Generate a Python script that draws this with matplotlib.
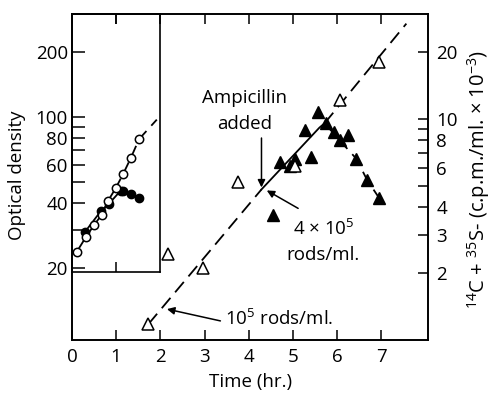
import matplotlib
matplotlib.use("Agg")
import matplotlib.pyplot as plt
from matplotlib.ticker import FixedLocator, NullLocator, FuncFormatter, NullFormatter

plt.rcParams['font.family'] = ['Open Sans', 'DejaVu Sans']
plt.rcParams['mathtext.default'] = 'regular'

# ---------------- data ----------------
# Main plot: 14C + 35S (c.p.m./ml x 1e-3) vs time (hr)
open_tri_t = [1.73, 2.17, 2.97, 3.76, 5.05, 6.06, 6.95]
open_tri_v = [1.18, 2.44, 2.12, 5.18, 6.10, 12.2, 18.1]

filled_tri_t = [4.55, 4.72, 4.93, 5.05, 5.27, 5.42, 5.57, 5.75, 5.93, 6.06, 6.25, 6.44, 6.68, 6.95]
filled_tri_v = [3.66, 6.38, 6.10, 6.61, 8.87, 6.72, 10.8, 9.57, 8.72, 8.0, 8.42, 6.61, 5.31, 4.40]

# drawn curves
dash_low_t = [1.73, 4.29]
dash_low_v = [1.18, 4.80]
solid_t = [4.29, 5.60, 5.72]
solid_v = [4.80, 9.13, 9.57]
dash_up_t = [5.72, 7.57]
dash_up_v = [9.57, 27.0]
decline_t = [5.72, 6.06, 6.44, 6.68, 6.95]
decline_v = [9.57, 8.0, 6.6, 5.3, 4.4]

# Inset: optical density vs time (hr)
open_circ_t = [0.11, 0.31, 0.50, 0.67, 0.82, 0.99, 1.16, 1.33, 1.52]
open_circ_od = [23.8, 27.7, 31.6, 35.2, 41.0, 46.8, 54.5, 64.4, 78.9]
filled_circ_t = [0.29, 0.66, 0.83, 1.10, 1.15, 1.33, 1.52]
filled_circ_od = [29.3, 36.8, 39.5, 45.5, 45.6, 44.0, 42.2]
inset_ext_t = [1.52, 1.92]
inset_ext_od = [78.9, 97.0]

x_ticks = [0, 1, 2, 3, 4, 5, 6, 7]
left_major = [20, 40, 60, 80, 100, 200]
left_minor = [30, 50, 70, 90]
right_major = [2, 3, 4, 6, 8, 10, 20]
right_minor = [5, 7, 9]

# ---------------- figure ----------------
W, H = 494, 398
FS = 13.5
fig = plt.figure(figsize=(W / 100, H / 100), dpi=100)
L, R, T, B = 72, 428, 13.5, 340
ax = fig.add_axes([L / W, 1 - B / H, (R - L) / W, (B - T) / H])
ax.set_xlim(0, 8.06)
ax.set_yscale('log')
ax.set_ylim(9.3, 300)
for s in ax.spines.values():
    s.set_linewidth(1.2)

fmt = FuncFormatter(lambda v, p: f"{v:g}")
ax.xaxis.set_major_locator(FixedLocator(x_ticks))
ax.xaxis.set_minor_locator(NullLocator())
ax.yaxis.set_major_locator(FixedLocator(left_major))
ax.yaxis.set_minor_locator(FixedLocator(left_minor))
ax.yaxis.set_major_formatter(fmt)
ax.yaxis.set_minor_formatter(NullFormatter())
ax.tick_params(axis='x', which='both', direction='in', top=True, bottom=True,
               length=7, width=1.1, labelsize=FS, pad=6)
ax.tick_params(axis='y', which='both', direction='in', left=True, right=False,
               length=9, width=1.1, labelsize=FS, pad=3)

ax2 = ax.twinx()
ax2.set_yscale('log')
ax2.set_ylim(1.0, 30)
ax2.yaxis.set_major_locator(FixedLocator(right_major))
ax2.yaxis.set_minor_locator(FixedLocator(right_minor))
ax2.yaxis.set_major_formatter(fmt)
ax2.yaxis.set_minor_formatter(NullFormatter())
ax2.tick_params(axis='y', which='both', direction='in', length=7, width=1.1,
                labelsize=FS, pad=6)
for s in ax2.spines.values():
    s.set_linewidth(1.2)

# inset
ins = ax.inset_axes([0, 19.2, 2.0, 300 - 19.2], transform=ax.transData)
ins.set_xlim(0, 2.0)
ins.set_yscale('log')
ins.set_ylim(19.2, 300)
ins.set_facecolor('none')
for s in ins.spines.values():
    s.set_linewidth(1.2)
ins.xaxis.set_major_locator(FixedLocator([1]))
ins.xaxis.set_minor_locator(NullLocator())
ins.yaxis.set_major_locator(NullLocator())
ins.yaxis.set_minor_locator(NullLocator())
ins.tick_params(axis='x', direction='in', top=True, bottom=True, labelbottom=False,
                length=7, width=1.1)

lw = 1.3
dash = (0, (6, 4))
# inset lines & markers
n_solid = 6
ins.plot(open_circ_t[:n_solid], open_circ_od[:n_solid], color='black', lw=lw)
ins.plot(open_circ_t[n_solid - 1:], open_circ_od[n_solid - 1:], color='black', lw=lw, ls=dash)
ins.plot(inset_ext_t, inset_ext_od, color='black', lw=lw, ls=dash)
ins.plot(filled_circ_t, filled_circ_od, color='black', lw=lw)
ins.plot(filled_circ_t, filled_circ_od, 'o', ms=6, color='black', zorder=4)
ins.plot(open_circ_t, open_circ_od, 'o', ms=6, mfc='white', mec='black', mew=1.1, zorder=5)

# main lines
mdash = (0, (7.5, 4))
ax2.plot(dash_low_t, dash_low_v, color='black', lw=lw, ls=mdash)
ax2.plot(solid_t, solid_v, color='black', lw=lw)
ax2.plot(dash_up_t, dash_up_v, color='black', lw=lw, ls=mdash)
ax2.plot(decline_t, decline_v, color='black', lw=lw, ls=mdash)

ax2.plot(filled_tri_t, filled_tri_v, '^', ms=8.5, color='black', zorder=5)
ax2.plot(open_tri_t, open_tri_v, '^', ms=8.5, mfc='white', mec='black', mew=1.1, zorder=5)

# annotations
arr = dict(arrowstyle='-|>', color='black', lw=1.1, mutation_scale=11, shrinkA=0, shrinkB=0)
ax2.text(3.9, 10.9, 'Ampicillin\nadded', ha='center', va='center', fontsize=FS, linespacing=1.55)
ax2.annotate('', xy=(4.29, 4.9), xytext=(4.29, 8.2), arrowprops=arr)
ax2.text(5.69, 2.79, '4 × 10$^5$\nrods/ml.', ha='center', va='center', fontsize=FS,
         linespacing=1.45)
ax2.annotate('', xy=(4.41, 4.75), xytext=(5.12, 3.94), arrowprops=arr)
ax2.text(3.47, 1.25, '10$^5$ rods/ml.', ha='left', va='center', fontsize=FS)
ax2.annotate('', xy=(2.15, 1.38), xytext=(3.36, 1.22), arrowprops=arr)

# axis labels
fig.text(17 / W, 1 - 175 / H, 'Optical density', rotation=90, ha='center', va='center', fontsize=FS)
fig.text(251 / W, 1 - 382 / H, 'Time (hr.)', ha='center', va='center', fontsize=FS)
fig.text(479 / W, 1 - 180 / H, r'$^{14}$C + $^{35}$S- (c.p.m./ml. × 10$^{-3}$)', rotation=90,
         ha='center', va='center', fontsize=14.5)

fig.savefig('out.png', dpi=100)
